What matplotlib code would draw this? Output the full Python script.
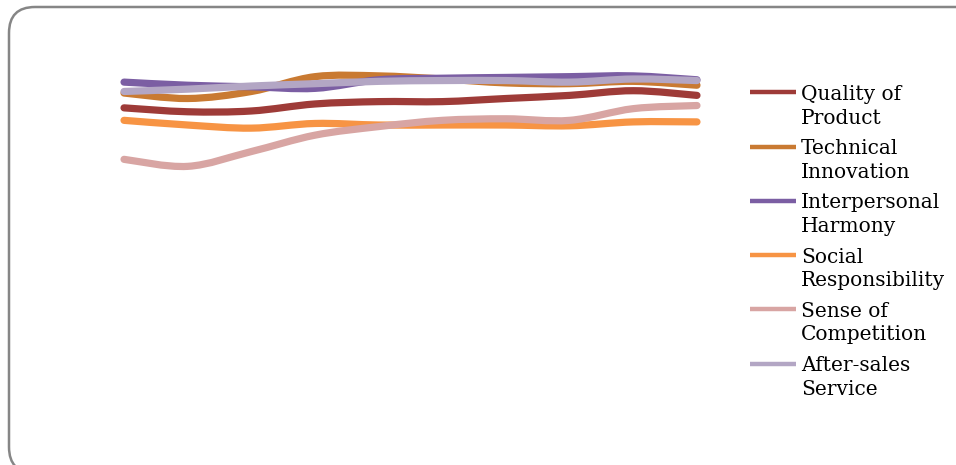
import numpy as np
import matplotlib
matplotlib.use("Agg")
import matplotlib.pyplot as plt
from matplotlib.path import Path
from matplotlib.patches import PathPatch, FancyBboxPatch

# ten survey points
points = np.arange(10)
quality = [4.13, 4.08, 4.09, 4.18, 4.21, 4.21, 4.25, 4.29, 4.35, 4.29]
technical = [4.32, 4.25, 4.34, 4.53, 4.54, 4.50, 4.45, 4.44, 4.47, 4.42]
interpersonal = [4.46, 4.42, 4.40, 4.38, 4.49, 4.51, 4.52, 4.53, 4.54, 4.49]
social = [3.97, 3.91, 3.87, 3.93, 3.91, 3.91, 3.91, 3.90, 3.95, 3.95]
competition = [3.47, 3.38, 3.57, 3.78, 3.89, 3.97, 3.99, 3.97, 4.12, 4.16]
after_sales = [4.34, 4.37, 4.41, 4.44, 4.47, 4.48, 4.48, 4.46, 4.50, 4.48]

labels = [("Quality of", "Product"), ("Technical", "Innovation"), ("Interpersonal", "Harmony"),
          ("Social", "Responsibility"), ("Sense of", "Competition"), ("After-sales", "Service")]
series = [quality, technical, interpersonal, social, competition, after_sales]
colors = ["#9E3B38", "#C97A32", "#7B5EA3", "#F79444", "#D8A5A3", "#B3A6C4"]


def smooth_path(x, y):
    # catmull-rom style bezier like the office "smoothed line"
    p = np.column_stack([x, y]).astype(float)
    n = len(p)
    verts = [p[0]]
    codes = [Path.MOVETO]
    for i in range(n - 1):
        p0 = p[i - 1] if i > 0 else p[i]
        p3 = p[i + 2] if i + 2 < n else p[i + 1]
        c1 = p[i] + (p[i + 1] - p0) / 6
        c2 = p[i + 1] - (p3 - p[i]) / 6
        verts += [c1, c2, p[i + 1]]
        codes += [Path.CURVE4] * 3
    return Path(verts, codes)


W, H = 956, 465
fig = plt.figure(figsize=(W / 100, H / 100), dpi=100)

# background axes in pixel units (y down) for the frame and legend
bg = fig.add_axes([0, 0, 1, 1], zorder=-1)
bg.set_xlim(0, W)
bg.set_ylim(H, 0)
bg.axis("off")
bg.add_patch(FancyBboxPatch((9, 7), 985, 466, boxstyle="round,pad=0,rounding_size=26",
                            fc="white", ec="#868686", lw=1.8))

ax = fig.add_axes([92.2 / W, 35 / H, 636.6 / W, 390 / H])
ax.set_xlim(-0.5, 9.5)
ax.set_ylim(0, 5)
ax.axis("off")

for vals, c in zip(series, colors):
    patch = PathPatch(smooth_path(points, vals), fill=False, ec=c, lw=5.2,
                      capstyle="round", joinstyle="round")
    ax.add_patch(patch)

# legend, drawn by hand so the swatch sits on the first text line
for i, ((l1, l2), c) in enumerate(zip(labels, colors)):
    yy = 92.5 + 54.2 * i
    bg.plot([750, 796], [yy, yy], color=c, lw=3.2, solid_capstyle="butt")
    bg.text(801, yy + 7.5, l1, fontsize=14.5, family="DejaVu Serif", va="baseline")
    bg.text(801, yy + 31, l2, fontsize=14.5, family="DejaVu Serif", va="baseline")

fig.savefig("out.png", dpi=100)
